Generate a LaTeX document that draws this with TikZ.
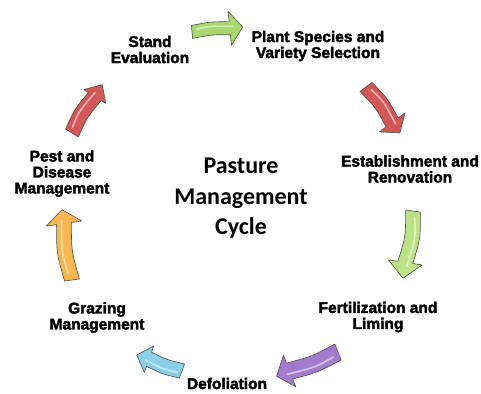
\documentclass[tikz,border=0pt]{standalone}
\usepackage{fontspec}
\newfontfamily\labfont{Liberation Sans}[BoldFeatures={FakeBold=2.5}]
\newfontfamily\titfont{Carlito}
\definecolor{agreenA}{HTML}{A9D86E}
\definecolor{aredA}{HTML}{D45757}
\definecolor{agreenB}{HTML}{BBE286}
\definecolor{apurple}{HTML}{A47BCC}
\definecolor{ablue}{HTML}{8ACFE6}
\definecolor{aorange}{HTML}{F7B64E}
\newcommand\blockarrow[8]{%
  \begin{scope}[shift={#1},rotate=#2]
    \pgfmathsetmacro\Lb{#3-#6}
    \filldraw[fill=#8, draw=black!70, line width=0.6pt, line join=round]
      (0,-#4) .. controls (\Lb/2,-#4+#7) .. (\Lb,-#4) -- (\Lb,-#5) -- (#3,0)
      -- (\Lb,#5) -- (\Lb,#4) .. controls (\Lb/2,#4+#7) .. (0,#4) -- cycle;
    \draw[white, opacity=0.55, line width=1.6pt, line cap=round]
      (\Lb*0.12,-#4*0.35) .. controls (\Lb/2,-#4*0.35+#7) .. (\Lb+#6*0.25,-#4*0.25);
  \end{scope}}
\tikzset{
  lab/.style={font=\labfont\bfseries\fontsize{15.5}{16}\selectfont, align=center, inner sep=0pt, text=black},
  title/.style={font=\titfont\bfseries\fontsize{24}{30.5}\selectfont, align=center, inner sep=0pt, text=black}
}
\begin{document}
\begin{tikzpicture}[x=1pt,y=-1pt]
\fill[white] (0,0) rectangle (481,393);
\useasboundingbox (0,0) rectangle (481,393);
% labels
\node[lab] (stand) at (150,49.5) {Stand\\Evaluation};
\node[lab] (plant) at (318,46) {Plant Species and\\Variety Selection};
\node[lab] (estab) at (410,169) {Establishment and\\Renovation};
\node[lab] (fert) at (378,317) {Fertilization and\\Liming};
\node[lab] (defol) at (227,383.5) {Defoliation};
\node[lab] (graz) at (97,317.5) {Grazing\\Management};
\node[lab] (pest) at (62,173.5) {Pest and\\Disease\\Management};
\node[title] (cycle) at (241,198.5) {Pasture\\Management\\Cycle};
% arrow anchors
\coordinate (a1) at (192,32);
\coordinate (a2) at (366,87);
\coordinate (a3) at (413,211);
\coordinate (a4) at (338,352);
\coordinate (a5) at (182,371);
\coordinate (a6) at (72,280);
\coordinate (a7) at (72,133);
% arrows
\blockarrow{(a1)}{5.6}{51}{6.5}{17}{13}{-2}{agreenA}
\blockarrow{(a2)}{-53.5}{57}{7.5}{16}{13}{-3}{aredA}
\blockarrow{(a3)}{-98.5}{68}{7.5}{17}{16}{-4}{agreenB}
\blockarrow{(a4)}{201.5}{66}{8.5}{17}{14}{-3}{apurple}
\blockarrow{(a5)}{160.4}{48}{7.5}{14}{13}{-2}{ablue}
\blockarrow{(a6)}{98.1}{71}{7.5}{18}{14}{-4}{aorange}
\blockarrow{(a7)}{58}{57}{7.5}{13}{14}{-3}{aredA}
\end{tikzpicture}
\end{document}
